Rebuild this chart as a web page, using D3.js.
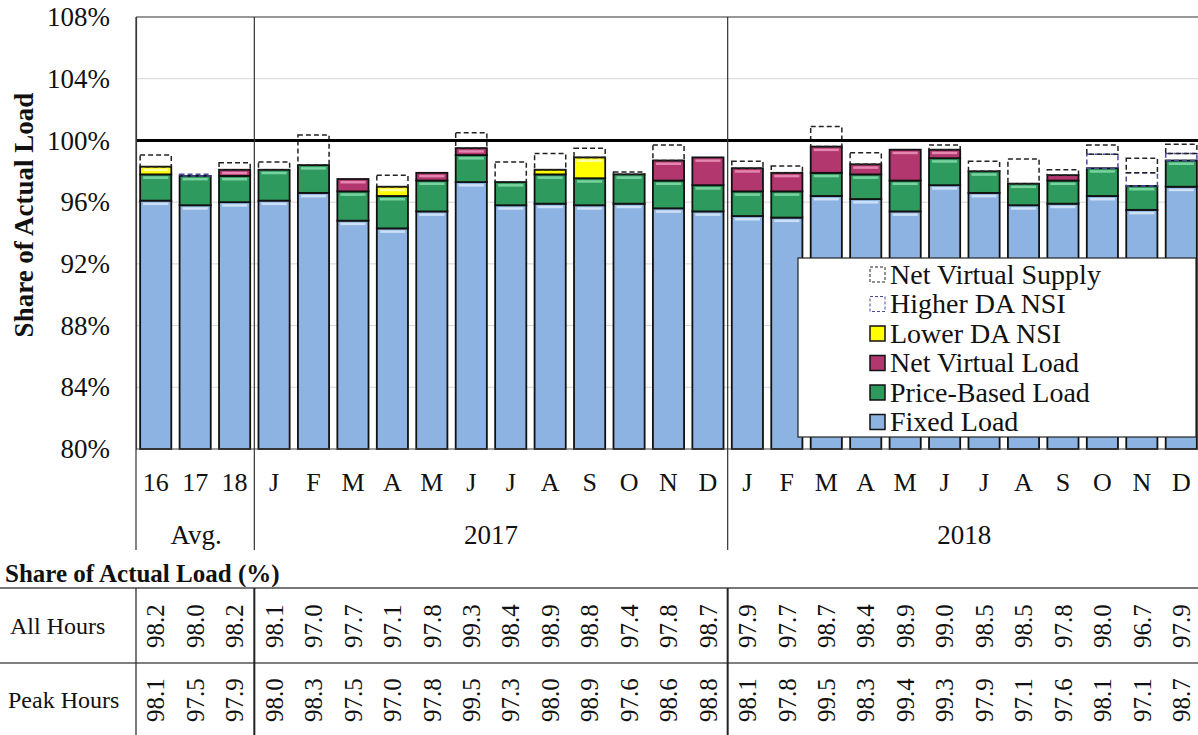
<!DOCTYPE html>
<html>
<head>
<meta charset="utf-8">
<script src="https://cdn.jsdelivr.net/npm/d3@7"></script>
<style>
  body { margin: 0; background: #fff; }
  svg text { font-family: "Liberation Serif", "Times New Roman", serif; fill: #111; }
</style>
</head>
<body>
<svg id="chart" width="1198" height="735"></svg>
<script>
// categories along the bottom
const categories = ["16", "17", "18", "J", "F", "M", "A", "M", "J", "J", "A", "S", "O", "N", "D",
  "J", "F", "M", "A", "M", "J", "J", "A", "S", "O", "N", "D"]
const groupLabels = ["Avg.", "2017", "2018"]
const groupStarts = [0, 3, 15]
const groupEnds = [3, 15, 27]

// stacked segments, % of actual load
const fixedLoad = [96.1, 95.8, 96.0, 96.1, 96.6, 94.8, 94.3, 95.4, 97.3, 95.8, 95.9, 95.8, 95.9, 95.6, 95.4,
  95.1, 95.0, 96.4, 96.2, 95.4, 97.1, 96.6, 95.8, 95.9, 96.4, 95.5, 97.0]
const priceBasedLoad = [1.7, 1.9, 1.7, 2.0, 1.8, 1.9, 2.1, 2.0, 1.75, 1.5, 1.9, 1.75, 1.9, 1.8, 1.7,
  1.6, 1.7, 1.5, 1.6, 2.0, 1.75, 1.4, 1.4, 1.5, 1.8, 1.55, 1.7]
const netVirtualLoad = [0, 0, 0.4, 0, 0, 0.8, 0, 0.5, 0.45, 0, 0, 0, 0, 1.3, 1.8,
  1.5, 1.2, 1.7, 0.65, 2.0, 0.55, 0, 0, 0.35, 0, 0, 0]
const lowerDaNsi = [0.5, 0, 0, 0, 0, 0, 0.6, 0, 0, 0, 0.3, 1.35, 0, 0, 0,
  0, 0, 0, 0, 0, 0, 0, 0, 0, 0, 0, 0]
const higherDaNsi = [0, 0.1, 0, 0, 0, 0, 0, 0, 0, 0, 0, 0, 0, 0, 0,
  0, 0, 0, 0, 0, 0, 0, 0, 0, 0.9, 0.85, 0.45]
const netVirtualSupply = [0.75, 0, 0.45, 0.5, 1.95, 0, 0.75, 0, 1.0, 1.3, 1.05, 0.6, 0.15, 1.0, 0,
  0.45, 0.45, 1.3, 0.75, 0, 0.3, 0.65, 1.6, 0.35, 0.6, 0.95, 0.6]

// table under the chart
const allHours = [98.2, 98.0, 98.2, 98.1, 97.0, 97.7, 97.1, 97.8, 99.3, 98.4, 98.9, 98.8, 97.4, 97.8, 98.7,
  97.9, 97.7, 98.7, 98.4, 98.9, 99.0, 98.5, 98.5, 97.8, 98.0, 96.7, 97.9]
const peakHours = [98.1, 97.5, 97.9, 98.0, 98.3, 97.5, 97.0, 97.8, 99.5, 97.3, 98.0, 98.9, 97.6, 98.6, 98.8,
  98.1, 97.8, 99.5, 98.3, 99.4, 99.3, 97.9, 97.1, 97.6, 98.1, 97.1, 98.7]

const yTicks = [80, 84, 88, 92, 96, 100, 104, 108]

const series = [
  { key: "fixed", name: "Fixed Load", values: fixedLoad, fill: "#8db3e2", hi: "#cde0f6", dashed: false },
  { key: "price", name: "Price-Based Load", values: priceBasedLoad, fill: "#2f9a5e", hi: "#79d3a0", dashed: false },
  { key: "nvl", name: "Net Virtual Load", values: netVirtualLoad, fill: "#b2376f", hi: "#e486b0", dashed: false },
  { key: "lower", name: "Lower DA NSI", values: lowerDaNsi, fill: "#ffff00", hi: "#ffffa8", dashed: false },
  { key: "higher", name: "Higher DA NSI", values: higherDaNsi, stroke: "#4b4b9e", dashed: true },
  { key: "nvs", name: "Net Virtual Supply", values: netVirtualSupply, stroke: "#222", dashed: true }
]

const FONT = "'Liberation Serif', 'Times New Roman', serif"

const svg = d3.select("#chart")

const x = d3.scaleBand()
  .domain(d3.range(categories.length))
  .range([136, 1201])
  .paddingInner(0.21)
  .paddingOuter(0.105)

const y = d3.scaleLinear().domain([80, 108]).range([449, 17])

const step = x.step()
const edge = (i) => 136 + i * step
const clampY = (v) => y(Math.max(80, Math.min(108, v)))

// gridlines
svg.append("g")
  .selectAll("line")
  .data(yTicks.filter(t => t > 80 && t !== 100))
  .enter().append("line")
  .attr("x1", 136).attr("x2", 1198)
  .attr("y1", d => y(d)).attr("y2", d => y(d))
  .attr("stroke", "#d6d6d6").attr("stroke-width", 1)

// top frame
svg.append("line")
  .attr("x1", 136).attr("x2", 1198)
  .attr("y1", y(108)).attr("y2", y(108))
  .attr("stroke", "#444").attr("stroke-width", 1.2)

// stacking
const rows = categories.map((c, i) => {
  let r = { i: i }
  series.forEach(s => r[s.key] = s.values[i])
  return r
})
const stacked = d3.stack().keys(series.map(s => s.key))(rows)

// bars
stacked.forEach((layer, li) => {
  const s = series[li]
  const g = svg.append("g").attr("class", "layer-" + s.key)
  const segs = layer.filter(d => d[1] - d[0] > 0)

  if (!s.dashed) {
    g.selectAll("rect.seg")
      .data(segs)
      .enter().append("rect")
      .attr("class", "seg")
      .attr("x", d => x(d.data.i))
      .attr("width", x.bandwidth())
      .attr("y", d => clampY(d[1]))
      .attr("height", d => clampY(d[0]) - clampY(d[1]))
      .attr("fill", s.fill)
      .attr("stroke", "#111")
      .attr("stroke-width", 1.8)

    // bevel highlight along the top of each segment
    g.selectAll("rect.hi")
      .data(segs.filter(d => clampY(d[0]) - clampY(d[1]) > 6))
      .enter().append("rect")
      .attr("class", "hi")
      .attr("x", d => x(d.data.i) + 3)
      .attr("width", x.bandwidth() - 6)
      .attr("y", d => clampY(d[1]) + 2)
      .attr("height", 2.5)
      .attr("fill", s.hi)
  } else {
    g.selectAll("rect")
      .data(segs)
      .enter().append("rect")
      .attr("x", d => x(d.data.i))
      .attr("width", x.bandwidth())
      .attr("y", d => clampY(d[1]))
      .attr("height", d => clampY(d[0]) - clampY(d[1]))
      .attr("fill", "none")
      .attr("stroke", s.stroke)
      .attr("stroke-width", 1.5)
      .attr("stroke-dasharray", "5,3")
  }
})

// 100% reference line
svg.append("line")
  .attr("x1", 136).attr("x2", 1198)
  .attr("y1", y(100)).attr("y2", y(100))
  .attr("stroke", "#000").attr("stroke-width", 3)

// x axis baseline
svg.append("line")
  .attr("x1", 136).attr("x2", 1198)
  .attr("y1", y(80)).attr("y2", y(80))
  .attr("stroke", "#444").attr("stroke-width", 1.2)

// y axis
const yAxis = svg.append("g")
  .attr("transform", "translate(136,0)")
  .call(d3.axisLeft(y).tickValues(yTicks).tickFormat(d => d + "%").tickSize(0).tickPadding(26))
yAxis.attr("font-family", null)
yAxis.select(".domain").attr("stroke", "#444").attr("stroke-width", 1.2)
yAxis.selectAll("text")
  .style("font-family", FONT)
  .style("font-size", "27px")
  .attr("fill", "#111")

svg.append("text")
  .attr("transform", "translate(33,215) rotate(-90)")
  .attr("text-anchor", "middle")
  .style("font-family", FONT)
  .style("font-size", "27px")
  .style("font-weight", "bold")
  .text("Share of Actual Load")

// category axis
const xAxis = svg.append("g")
  .attr("transform", "translate(0," + y(80) + ")")
  .call(d3.axisBottom(x).tickFormat(i => categories[i]).tickSize(0).tickPadding(24))
xAxis.attr("font-family", null)
xAxis.select(".domain").remove()
xAxis.selectAll("text")
  .style("font-family", FONT)
  .style("font-size", "26px")
  .attr("fill", "#111")

// group separators and labels
const sepEdges = [0, 3, 15]
svg.append("g")
  .selectAll("line")
  .data(sepEdges)
  .enter().append("line")
  .attr("x1", d => edge(d)).attr("x2", d => edge(d))
  .attr("y1", y(108)).attr("y2", 550)
  .attr("stroke", "#333").attr("stroke-width", 1.2)

svg.append("g")
  .selectAll("text")
  .data(groupLabels)
  .enter().append("text")
  .attr("x", (d, i) => (edge(groupStarts[i]) + edge(groupEnds[i])) / 2 + (i === 0 ? 1 : 0))
  .attr("y", 544)
  .attr("text-anchor", "middle")
  .style("font-family", FONT)
  .style("font-size", "27px")
  .text(d => d)

// legend
const legend = svg.append("g").attr("transform", "translate(798,258)")
legend.append("rect")
  .attr("width", 398).attr("height", 179)
  .attr("fill", "#fff").attr("stroke", "#222").attr("stroke-width", 1.2)

const legendItems = series.slice().reverse()
const li = legend.selectAll("g.item")
  .data(legendItems)
  .enter().append("g")
  .attr("class", "item")
  .attr("transform", (d, i) => "translate(72," + (16 + i * 29.5) + ")")

li.append("rect")
  .attr("x", 0).attr("y", -7)
  .attr("width", 15).attr("height", 15)
  .attr("fill", d => d.dashed ? "none" : d.fill)
  .attr("stroke", d => d.dashed ? d.stroke : "#111")
  .attr("stroke-width", d => d.dashed ? 1 : 1.5)
  .attr("stroke-dasharray", d => d.dashed ? "3,2" : null)

li.append("text")
  .attr("x", 20).attr("y", 0)
  .attr("dy", "0.35em")
  .style("font-family", FONT)
  .style("font-size", "28px")
  .text(d => d.name)

// data table
svg.append("text")
  .attr("x", 5).attr("y", 582)
  .style("font-family", FONT)
  .style("font-size", "25px")
  .style("font-weight", "bold")
  .text("Share of Actual Load (%)")

const tableTop = 588, rowMid = 663, tableBottom = 740
svg.append("line")
  .attr("x1", 0).attr("x2", 1198).attr("y1", tableTop).attr("y2", tableTop)
  .attr("stroke", "#777").attr("stroke-width", 2)
svg.append("line")
  .attr("x1", 0).attr("x2", 1198).attr("y1", rowMid).attr("y2", rowMid)
  .attr("stroke", "#555").attr("stroke-width", 1.5)

svg.append("g")
  .selectAll("line")
  .data(sepEdges)
  .enter().append("line")
  .attr("x1", d => edge(d)).attr("x2", d => edge(d))
  .attr("y1", tableTop).attr("y2", tableBottom)
  .attr("stroke", "#222").attr("stroke-width", d => d === 0 ? 1.2 : 2)

const tableRows = [
  { label: "All Hours", values: allHours, cy: 626, lx: 10 },
  { label: "Peak Hours", values: peakHours, cy: 700, lx: 8 }
]

tableRows.forEach(r => {
  svg.append("text")
    .attr("x", r.lx).attr("y", r.cy)
    .attr("dy", "0.35em")
    .style("font-family", FONT)
    .style("font-size", "24px")
    .text(r.label)

  svg.append("g")
    .selectAll("text")
    .data(r.values)
    .enter().append("text")
    .attr("transform", (d, i) => "translate(" + (x(i) + x.bandwidth() / 2) + "," + r.cy + ") rotate(-90)")
    .attr("text-anchor", "middle")
    .attr("dy", "0.35em")
    .style("font-family", FONT)
    .style("font-size", "25px")
    .text(d => d.toFixed(1))
})
</script>
</body>
</html>
